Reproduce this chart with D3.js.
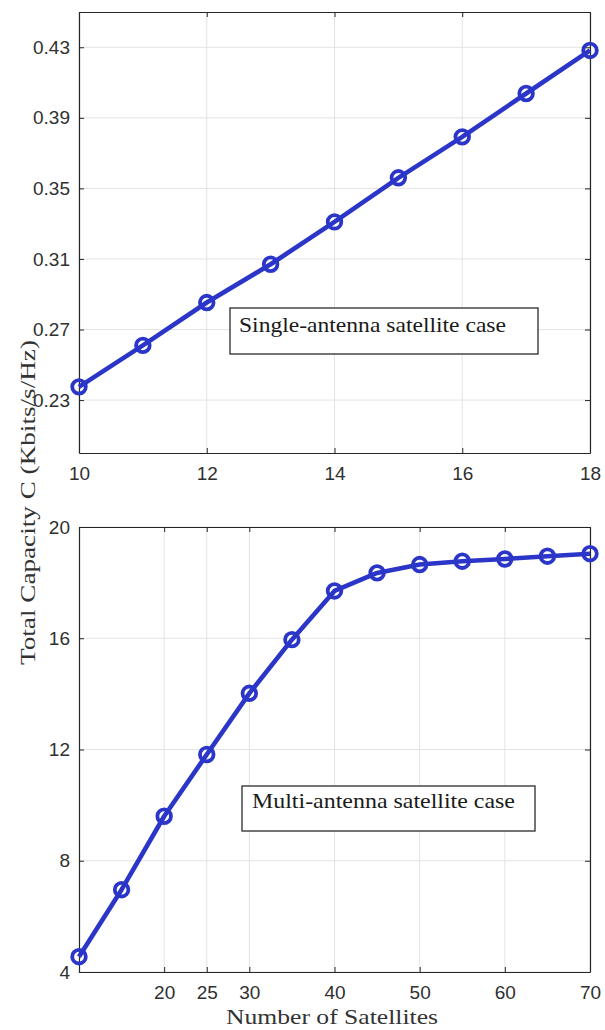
<!DOCTYPE html>
<html><head><meta charset="utf-8">
<script src="https://cdn.jsdelivr.net/npm/d3@7"></script>
<style>
html,body{margin:0;padding:0;background:#fff;}
svg{display:block;}
</style></head>
<body>
<svg id="chart" width="605" height="1030"></svg>
<script>
// ---- data ----
const topX = [10, 11, 12, 13, 14, 15, 16, 17, 18];
const topY = [0.2375, 0.261, 0.2853, 0.307, 0.331, 0.356, 0.3792, 0.4038, 0.4282];
const topXTicks = [10, 12, 14, 16, 18];
const topYTicks = [0.23, 0.27, 0.31, 0.35, 0.39, 0.43];
const topYDomain = [0.2, 0.45];
const topXDomain = [10, 18];
const topNote = "Single-antenna satellite case";

const botX = [10, 15, 20, 25, 30, 35, 40, 45, 50, 55, 60, 65, 70];
const botY = [4.55, 6.96, 9.6, 11.82, 14.02, 15.95, 17.7, 18.35, 18.65, 18.77, 18.85, 18.95, 19.04];
const botXTicks = [20, 25, 30, 40, 50, 60, 70];
const botYTicks = [4, 8, 12, 16, 20];
const botYDomain = [4, 20];
const botXDomain = [10, 70];
const botNote = "Multi-antenna satellite case";

const yLabel = "Total Capacity C (Kbits/s/Hz)";
const xLabel = "Number of Satellites";

// ---- style ----
const lineColor = "#2b36c9";
const axisColor = "#262626";
const gridColor = "#e3e3e3";
const tickFont = "'Liberation Sans', Arial, sans-serif";
const serif = "'Liberation Serif', 'Times New Roman', serif";

const svg = d3.select("#chart");

function panel(cfg) {
  const {left, right, top, bottom, xs, ys, xd, yd, xt, yt, fmt, note, box} = cfg;
  const x = d3.scaleLinear().domain(xd).range([left, right]);
  const y = d3.scaleLinear().domain(yd).range([bottom, top]);
  const g = svg.append("g");

  // grid
  g.append("g").selectAll("line.gx").data(xt).join("line")
    .attr("x1", d => x(d)).attr("x2", d => x(d))
    .attr("y1", top).attr("y2", bottom)
    .attr("stroke", gridColor).attr("stroke-width", 1);
  g.append("g").selectAll("line.gy").data(yt).join("line")
    .attr("y1", d => y(d)).attr("y2", d => y(d))
    .attr("x1", left).attr("x2", right)
    .attr("stroke", gridColor).attr("stroke-width", 1);

  // axes
  const styleAxis = sel => {
    sel.selectAll("path.domain").attr("stroke", axisColor).attr("stroke-width", 1.2);
    sel.selectAll(".tick line").attr("stroke", axisColor).attr("stroke-width", 1);
    sel.selectAll(".tick text").attr("fill", "#303030")
      .style("font-family", tickFont).style("font-size", "19px");
  };
  g.append("g").attr("transform", `translate(0,${bottom})`)
    .call(d3.axisBottom(x).tickValues(xt).tickSize(-5).tickSizeOuter(0).tickPadding(14))
    .call(styleAxis);
  g.append("g").attr("transform", `translate(0,${top})`)
    .call(d3.axisTop(x).tickValues(xt).tickSize(-5).tickSizeOuter(0).tickFormat(""))
    .call(styleAxis);
  g.append("g").attr("transform", `translate(${left},0)`)
    .call(d3.axisLeft(y).tickValues(yt).tickSize(-5).tickSizeOuter(0).tickPadding(9).tickFormat(fmt))
    .call(styleAxis);
  g.append("g").attr("transform", `translate(${right},0)`)
    .call(d3.axisRight(y).tickValues(yt).tickSize(-5).tickSizeOuter(0).tickFormat(""))
    .call(styleAxis);

  // line
  const line = d3.line().x((d, i) => x(xs[i])).y(d => y(d));
  g.append("path").datum(ys).attr("d", line)
    .attr("fill", "none").attr("stroke", lineColor).attr("stroke-width", 4.6)
    .attr("stroke-linejoin", "round");
  g.append("g").selectAll("circle").data(ys).join("circle")
    .attr("cx", (d, i) => x(xs[i])).attr("cy", d => y(d)).attr("r", 6.8)
    .attr("fill", "none").attr("stroke", lineColor).attr("stroke-width", 3.8);

  // note box
  g.append("rect").attr("x", box.x).attr("y", box.y).attr("width", box.w).attr("height", box.h)
    .attr("fill", "#fff").attr("stroke", "#3a3a3a").attr("stroke-width", 1.4);
  g.append("text").attr("x", box.tx).attr("y", box.ty).text(note)
    .attr("textLength", box.tl).attr("lengthAdjust", "spacingAndGlyphs")
    .style("font-family", serif).style("font-size", "21px").attr("fill", "#1a1a1a");
}

panel({left: 79, right: 590, top: 12, bottom: 453,
  xs: topX, ys: topY, xd: topXDomain, yd: topYDomain, xt: topXTicks, yt: topYTicks,
  fmt: d3.format(".2f"), note: topNote,
  box: {x: 230, y: 308, w: 308, h: 46, tx: 239, ty: 332, tl: 267}});

panel({left: 79, right: 590, top: 527, bottom: 972,
  xs: botX, ys: botY, xd: botXDomain, yd: botYDomain, xt: botXTicks, yt: botYTicks,
  fmt: d3.format("d"), note: botNote,
  box: {x: 242, y: 786, w: 293, h: 45, tx: 252, ty: 808, tl: 263}});

// axis labels
svg.append("text").attr("transform", "translate(35,502.5) rotate(-90)")
  .attr("text-anchor", "middle").text(yLabel)
  .attr("textLength", 325).attr("lengthAdjust", "spacingAndGlyphs")
  .style("font-family", serif).style("font-size", "22px").attr("fill", "#333");
svg.append("text").attr("x", 332).attr("y", 1024)
  .attr("text-anchor", "middle").text(xLabel)
  .attr("textLength", 212).attr("lengthAdjust", "spacingAndGlyphs")
  .style("font-family", serif).style("font-size", "21px").attr("fill", "#333");
</script>
</body></html>
